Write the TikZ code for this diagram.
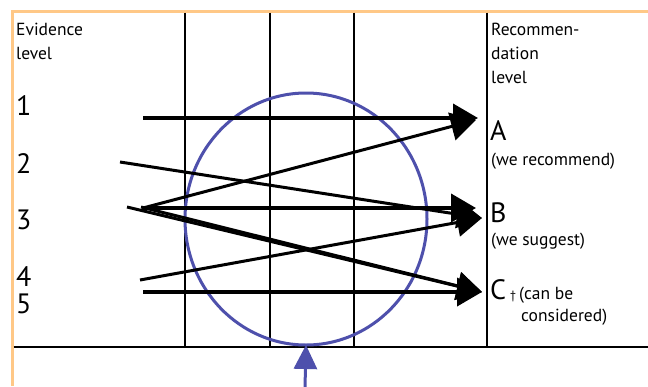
\documentclass[tikz,border=0pt]{standalone}
\usepackage{fontspec}
\setmainfont{PT Sans}
\usetikzlibrary{arrows.meta,shapes.geometric}
\definecolor{frameorange}{RGB}{255,200,135}
\definecolor{circblue}{RGB}{78,80,172}
\begin{document}
\begin{tikzpicture}[x=1pt,y=-1pt,
  small/.style={font=\fontsize{17.5}{20}\selectfont, anchor=base west, inner sep=0pt},
  big/.style={font=\fontsize{28}{30}\selectfont, anchor=base west, inner sep=0pt},
  gridline/.style={line width=1.1pt},
  thickarrow/.style={line width=4pt, -{Triangle[length=25pt,width=28pt]}},
  thinarrow/.style={line width=3pt, -{Triangle[length=25pt,width=28pt]}},
]
\useasboundingbox (0,0) rectangle (648,386);
\fill[white] (0,0) rectangle (648,386);

% frame
\coordinate (fbl) at (12,386);
\coordinate (ftl) at (12,11);
\coordinate (ftr) at (648,11);
\draw[frameorange, line width=3pt] (fbl) -- (ftl) -- (ftr);

% grid
\foreach \x [count=\i] in {185,270,354,487} {
  \coordinate (gt\i) at (\x,12.5);
  \coordinate (gb\i) at (\x,347);
  \draw[gridline] (gt\i) -- (gb\i);
}
\coordinate (hl) at (13.5,347);
\coordinate (hr) at (648,347);
\draw[line width=1.3pt] (hl) -- (hr);

% texts left
\node[small] (ev1) at (16,35) {Evidence};
\node[small] (ev2) at (16,59) {level};
\node[big] (n1) at (16,115) {1};
\node[big] (n2) at (16,173) {2};
\node[big] (n3) at (16,229) {3};
\node[big] (n4) at (16,286) {4};
\node[big] (n5) at (16,313) {5};

% texts right
\node[small] (rc1) at (491,35) {Recommen-};
\node[small] (rc2) at (491,59) {dation};
\node[small] (rc3) at (491,83) {level};
\node[big] (A) at (490,140) {A};
\node[small] (Ad) at (491,165) {(we recommend)};
\node[big] (B) at (490,222) {B};
\node[small] (Bd) at (491,245) {(we suggest)};
\node[big] (C) at (490,299) {C};
\node[anchor=base west, inner sep=0pt, font=\fontsize{12}{13}\selectfont] (dag) at (510,299) {†};
\node[small] (Cd1) at (519,299) {(can be};
\node[small] (Cd2) at (521,321) {considered)};

% circle
\node[draw=circblue, line width=3pt, ellipse, minimum width=242pt, minimum height=252pt, inner sep=0pt, outer sep=0pt] (circ) at (306,219) {};
\coordinate (bb) at (305,388);
\draw[circblue, line width=3pt, -{Triangle[length=24pt,width=23pt]}] (bb) -- (circ.south);

% arrow endpoints
\coordinate (s1) at (143,118);
\coordinate (s2) at (120,162);
\coordinate (s3a) at (143,208);
\coordinate (s3c) at (127,207);
\coordinate (s3d) at (141,207);
\coordinate (s4) at (140,280);
\coordinate (s5) at (143,292);
\coordinate (tA1) at (478,118);
\coordinate (tA2) at (476,120);
\coordinate (tB1) at (476,208);
\coordinate (tB2) at (482,218);
\coordinate (tC) at (482,292);

\draw[thickarrow] (s1) -- (tA1);
\draw[thinarrow] (s3a) -- (tA2);
\draw[thickarrow] (s3a) -- (tB1);
\draw[thinarrow] (s2) -- (tB2);
\draw[thinarrow] (s4) -- (tB2);
\draw[thinarrow] (s3c) -- (tC);
\draw[thinarrow] (s3d) -- (tC);
\draw[thickarrow] (s5) -- (tC);
\end{tikzpicture}
\end{document}
